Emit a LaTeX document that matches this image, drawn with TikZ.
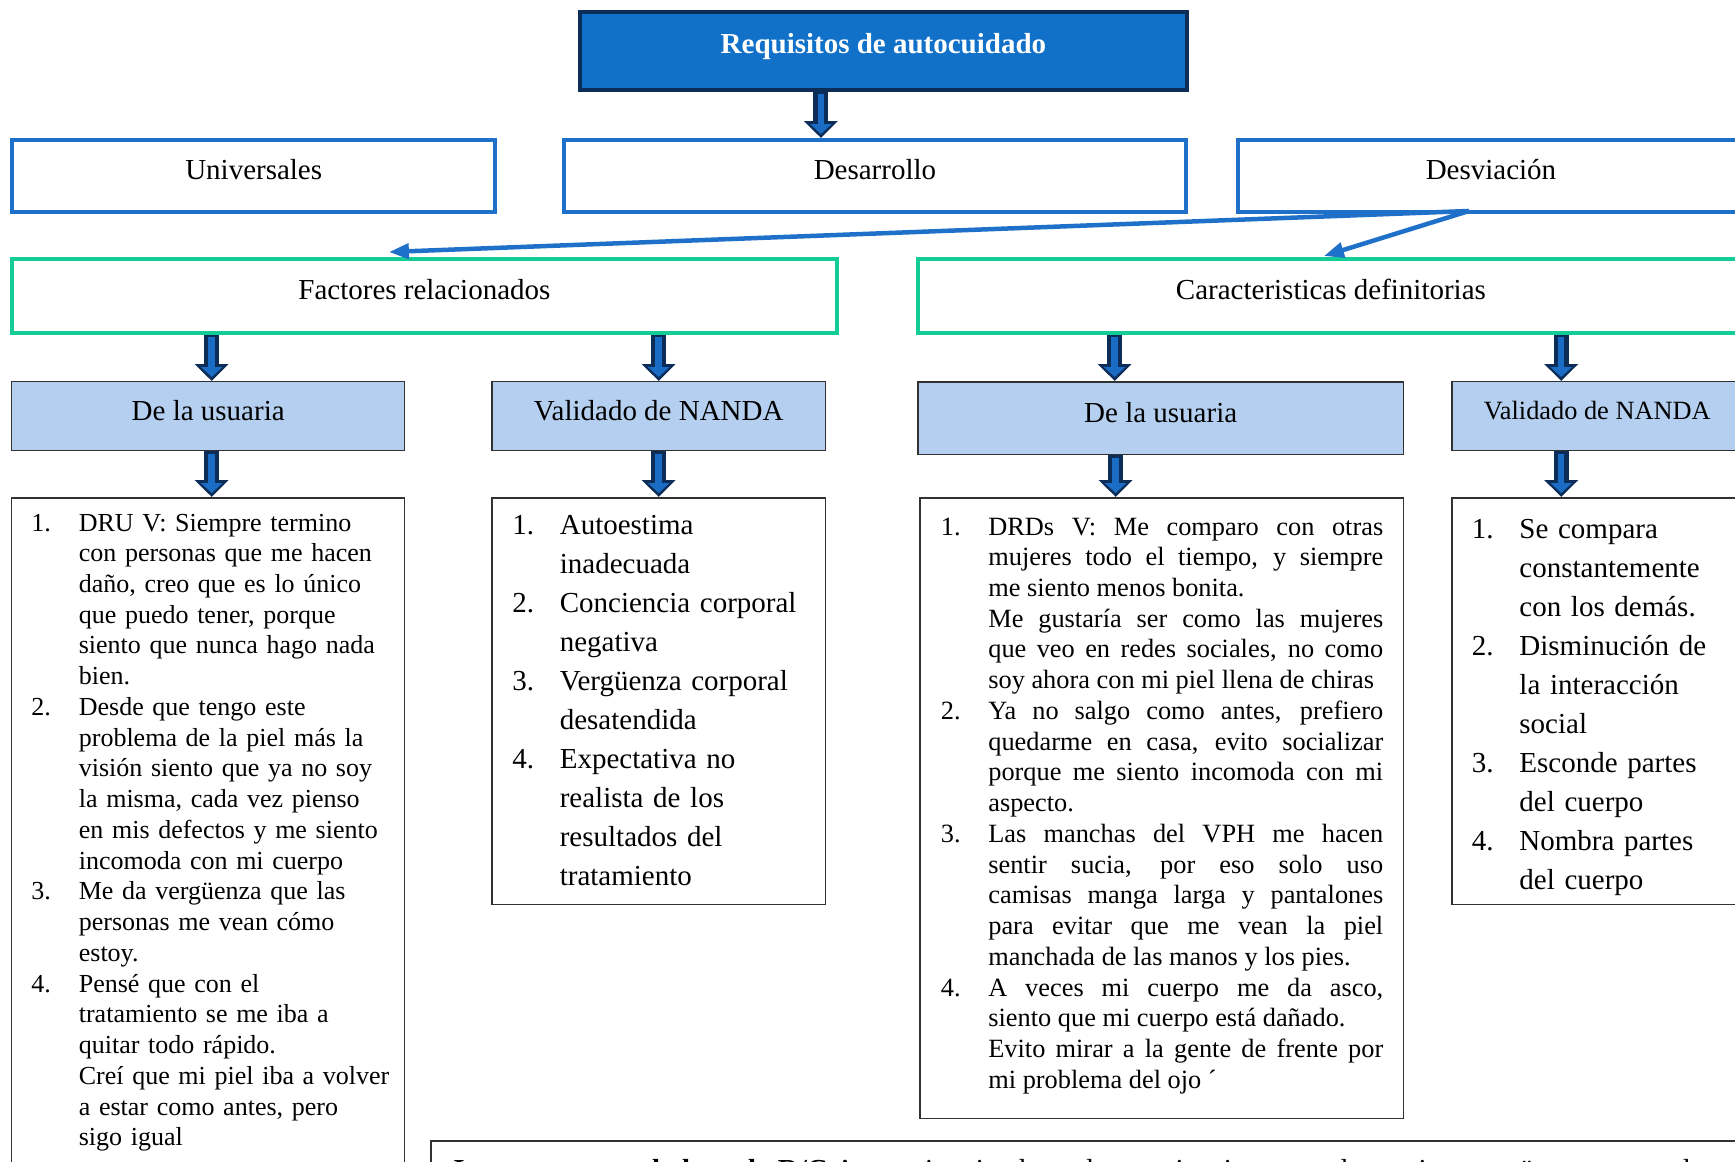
\documentclass[tikz,border=0pt]{standalone}
\usepackage{fontspec}
\setmainfont{Liberation Serif}
\usetikzlibrary{arrows.meta}

\definecolor{navy}{RGB}{12,45,88}
\definecolor{titblue}{RGB}{17,112,200}
\definecolor{rowblue}{RGB}{30,112,200}
\definecolor{tealgreen}{RGB}{20,204,150}
\definecolor{lightblue}{RGB}{180,207,239}
\definecolor{arrowblue}{RGB}{26,108,196}
\definecolor{edge}{RGB}{50,50,50}

\newlength\numind
\setlength\numind{0.95cm}
\newcommand{\itm}[2]{\noindent\hangindent=\numind\hangafter=1\makebox[\numind][l]{#1}#2\par}

\begin{document}
\begin{tikzpicture}[x=0.02cm,y=-0.02cm]
    \tikzstyle{topbox}=[draw=navy,fill=titblue,line width=0.08cm,anchor=north west,inner sep=0pt,minimum width=12.14cm,minimum height=1.56cm,text depth=0.3cm,text=white,font=\fontsize{16.5}{19}\selectfont\bfseries]
    \tikzstyle{typebox}=[draw=rowblue,line width=0.08cm,fill=white,anchor=north west,inner sep=0pt,minimum height=1.44cm,text depth=0.25cm,font=\fontsize{16.5}{19}\selectfont]
    \tikzstyle{factbox}=[typebox,draw=tealgreen,minimum height=1.48cm]
    \tikzstyle{srcbox}=[draw=edge,line width=0.03cm,fill=lightblue,anchor=north west,inner sep=0pt,minimum height=1.38cm,text depth=0.25cm,font=\fontsize{16.5}{19}\selectfont]
    \tikzstyle{listbox}=[draw=edge,line width=0.03cm,anchor=north west,inner sep=0pt]
    \tikzstyle{listtext}=[anchor=base west,inner sep=0pt,align=left]
    \tikzstyle{small}=[font=\fontsize{15}{17.5}\selectfont]
    \tikzstyle{big}=[font=\fontsize{16.5}{22.2}\selectfont]
    \tikzstyle{bigout}=[navy,line width=0.3cm,-{Triangle[width=0.66cm,length=0.34cm]}]
    \tikzstyle{bigin}=[arrowblue,line width=0.13cm,-{Triangle[width=0.42cm,length=0.2cm]},shorten >=0.08cm,shorten <=0.05cm]
    \tikzstyle{link}=[rowblue,line width=0.09cm,-{Triangle[width=0.3cm,length=0.4cm]}]

    \useasboundingbox (0,0) rectangle (1735,1162);
    \clip (0,0) rectangle (1735,1162);

    \node[topbox] (req) at (578,10) {Requisitos de autocuidado};
    \node[typebox,minimum width=9.67cm] (uni) at (10,138) {Universales};
    \node[typebox,minimum width=12.44cm] (des) at (562,138) {Desarrollo};
    \node[typebox,minimum width=10.12cm] (dsv) at (1236,138) {Desviación};
    \node[factbox,minimum width=16.5cm] (fac) at (10,257) {Factores relacionados};
    \node[factbox,minimum width=16.52cm] (car) at (916,257) {Caracteristicas definitorias};
    \node[srcbox,minimum width=7.86cm] (usu1) at (11,381) {De la usuaria};
    \node[srcbox,minimum width=6.68cm] (nan1) at (491,381) {Validado de NANDA};
    \node[srcbox,minimum width=9.72cm,minimum height=1.46cm] (usu2) at (917,381) {De la usuaria};
    \node[srcbox,minimum width=5.82cm,font=\fontsize{15}{18}\selectfont] (nan2) at (1451,381) {Validado de NANDA};

    \node[listbox,minimum width=7.86cm,minimum height=13.7cm] (lst1) at (11,497) {};
    \node[listbox,minimum width=6.68cm,minimum height=8.14cm] (lst2) at (491,497) {};
    \node[listbox,minimum width=9.68cm,minimum height=12.42cm] (lst3) at (919,497) {};
    \node[listbox,minimum width=5.82cm,minimum height=8.14cm] (lst4) at (1451,497) {};
    \node[listbox,minimum width=26.4cm,minimum height=2cm] (res) at (430,1140) {};

    \node[listtext,font=\fontsize{14.8}{17.5}\selectfont,text width=7.6cm] (txt1) at (31,531) {
        \itm{1.}{DRU V: Siempre termino\newline con personas que me hacen\newline daño, creo que es lo único\newline que puedo tener, porque\newline siento que nunca hago nada\newline bien.}
        \itm{2.}{Desde que tengo este\newline problema de la piel más la\newline visión siento que ya no soy\newline la misma, cada vez pienso\newline en mis defectos y me siento\newline incomoda con mi cuerpo}
        \itm{3.}{Me da vergüenza que las\newline personas me vean cómo\newline estoy.}
        \itm{4.}{Pensé que con el\newline tratamiento se me iba a\newline quitar todo rápido.\newline Creí que mi piel iba a volver\newline a estar como antes, pero\newline sigo igual}};
    \node[listtext,big,text width=6cm] (txt2) at (512,534) {
        \itm{1.}{Autoestima\newline inadecuada}
        \itm{2.}{Conciencia corporal\newline negativa}
        \itm{3.}{Vergüenza corporal\newline desatendida}
        \itm{4.}{Expectativa no\newline realista de los\newline resultados del\newline tratamiento}};
    \node[listtext,small,align=justify,text width=8.85cm] (txt3) at (940.5,535) {\hyphenpenalty=10000
        \itm{1.}{DRDs V: Me comparo con otras\linebreak mujeres todo el tiempo, y siempre\linebreak me siento menos bonita.\newline Me gustaría ser como las mujeres\linebreak que veo en redes sociales, no como\linebreak soy ahora con mi piel llena de chiras}
        \itm{2.}{Ya no salgo como antes, prefiero\linebreak quedarme en casa, evito socializar\linebreak porque me siento incomoda con mi\linebreak aspecto.}
        \itm{3.}{Las manchas del VPH me hacen\linebreak sentir sucia, por eso solo uso\linebreak camisas manga larga y pantalones\linebreak para evitar que me vean la piel\linebreak manchada de las manos y los pies.}
        \itm{4.}{A veces mi cuerpo me da asco,\linebreak siento que mi cuerpo está dañado.\newline Evito mirar a la gente de frente por\linebreak mi problema del ojo ´}};
    \node[listtext,big,text width=6cm] (txt4) at (1471.6,538) {
        \itm{1.}{Se compara\newline constantemente\newline con los demás.}
        \itm{2.}{Disminución de\newline la interacción\newline social}
        \itm{3.}{Esconde partes\newline del cuerpo}
        \itm{4.}{Nombra partes\newline del cuerpo}};
    \node[anchor=base west,inner sep=0pt,font=\fontsize{16.5}{19}\selectfont] (restxt) at (453,1179) {\textbf{Imagen corporal alterada R/C} Autoestima inadecuada, conciencia corporal negativa, vergüenza corporal};

    \coordinate (split) at ([xshift=4.66cm,yshift=0.06cm]dsv.south west);
    \draw[link] (split) -- ([xshift=-0.71cm,yshift=0.1cm]fac.north);
    \draw[link] (split) -- ([xshift=-0.14cm,yshift=0.02cm]car.north);

    \coordinate (top) at ([xshift=-1.25cm]req.south);
    \draw[bigout] (top) -- (top |- des.north);
    \draw[bigin] (top) -- (top |- des.north);
    \foreach \a/\b/\s in {fac/usu1/0.07, fac/nan1/0, car/usu2/-0.92, car/nan2/-0.72, usu1/lst1/0.07, nan1/lst2/0, usu2/lst3/-0.92, nan2/lst4/-0.72} {
        \coordinate (t) at ([xshift=\s cm]\b.north);
        \draw[bigout] (\a.south -| t) -- (t);
        \draw[bigin] (\a.south -| t) -- (t);
    }
\end{tikzpicture}
\end{document}
